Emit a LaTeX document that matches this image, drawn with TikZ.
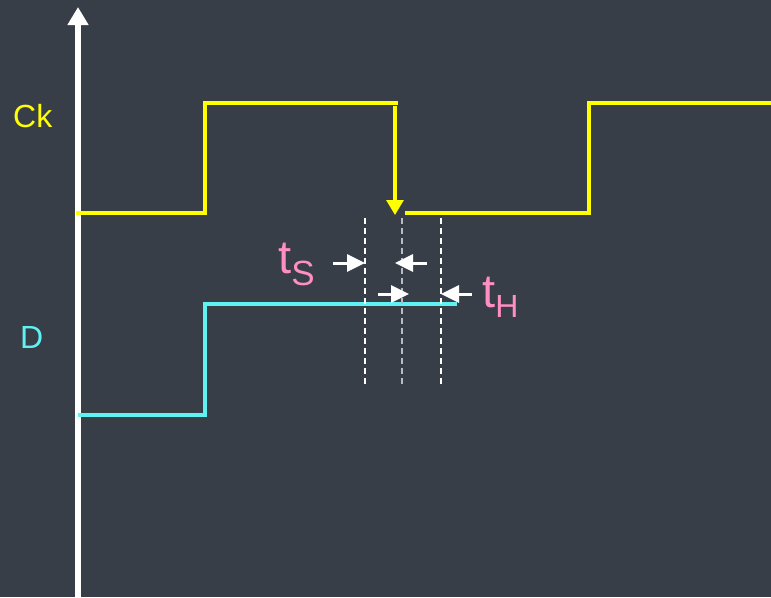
\documentclass[tikz,border=0pt]{standalone}
\usepackage{fontspec}
\setmainfont{Liberation Sans}
\usetikzlibrary{arrows.meta}
\definecolor{bg}{HTML}{383E48}
\definecolor{ckyel}{HTML}{FFFF00}
\definecolor{dcyan}{HTML}{5EF2F2}
\definecolor{tpink}{HTML}{FF8EC4}
\definecolor{midgray}{HTML}{B8BCC2}
\begin{document}
\begin{tikzpicture}[x=1pt,y=-1pt,
  axisline/.style={white, line width=6pt, -{Triangle[length=18pt,width=20pt]}},
  ckwave/.style={ckyel, line width=3.1pt},
  ckarrow/.style={ckyel, line width=3.1pt, -{Triangle[length=15pt,width=17pt]}},
  dwave/.style={dcyan, line width=3.1pt},
  guide/.style={white, line width=1.2pt, dash pattern=on 6pt off 4pt},
  guidemid/.style={midgray, line width=1.6pt, dash pattern=on 6pt off 4pt},
  dimarrow/.style={white, line width=3pt, -{Triangle[length=18pt,width=17pt]}},
  lbl/.style={inner sep=0pt, anchor=base west}]
\fill[bg] (0,0) rectangle (771,597);
\useasboundingbox (0,0) rectangle (771,597);
% axis
\coordinate (ax0) at (78,597);
\coordinate (ax1) at (78,7);
\draw[axisline] (ax0) -- (ax1);
% Ck waveform
\coordinate (c0) at (76,213);
\coordinate (c1) at (205,213);
\coordinate (c2) at (205,103);
\coordinate (c3) at (398,103);
\coordinate (ca0) at (395,106);
\coordinate (ca1) at (395,215);
\coordinate (c4) at (405,213);
\coordinate (c5) at (589,213);
\coordinate (c6) at (589,103);
\coordinate (c7) at (771,103);
\draw[ckwave] (c0) -- (c1) -- (c2) -- (c3);
\draw[ckarrow] (ca0) -- (ca1);
\draw[ckwave] (c4) -- (c5) -- (c6) -- (c7);
% D waveform
\coordinate (d0) at (78,415);
\coordinate (d1) at (205,415);
\coordinate (d2) at (205,304);
\coordinate (d3) at (457,304);
\draw[dwave] (d0) -- (d1) -- (d2) -- (d3);
% guide lines
\coordinate (g1a) at (365,218); \coordinate (g1b) at (365,384);
\coordinate (g2a) at (402,218); \coordinate (g2b) at (402,384);
\coordinate (g3a) at (441,218); \coordinate (g3b) at (441,384);
\draw[guide] (g1a) -- (g1b);
\draw[guidemid] (g2a) -- (g2b);
\draw[guide] (g3a) -- (g3b);
% dimension arrows
\coordinate (s1a) at (333,263); \coordinate (s1b) at (365,263);
\coordinate (s2a) at (427,263); \coordinate (s2b) at (395,263);
\coordinate (h1a) at (378,294); \coordinate (h1b) at (409,294);
\coordinate (h2a) at (472,294); \coordinate (h2b) at (441,294);
\draw[dimarrow] (s1a) -- (s1b);
\draw[dimarrow] (s2a) -- (s2b);
\draw[dimarrow] (h1a) -- (h1b);
\draw[dimarrow] (h2a) -- (h2b);
% labels
\node[lbl, text=ckyel, font=\fontsize{32}{32}\selectfont] (ck) at (13,127) {Ck};
\node[lbl, text=dcyan, font=\fontsize{32}{32}\selectfont] (dl) at (20,348) {D};
\node[lbl, text=tpink, font=\fontsize{47}{47}\selectfont] (ts) at (278,273) {t\raisebox{-12pt}{\fontsize{35}{35}\selectfont S}};
\node[lbl, text=tpink, font=\fontsize{47}{47}\selectfont] (th) at (482,307) {t\raisebox{-10pt}{\fontsize{32}{32}\selectfont H}};
\end{tikzpicture}
\end{document}
